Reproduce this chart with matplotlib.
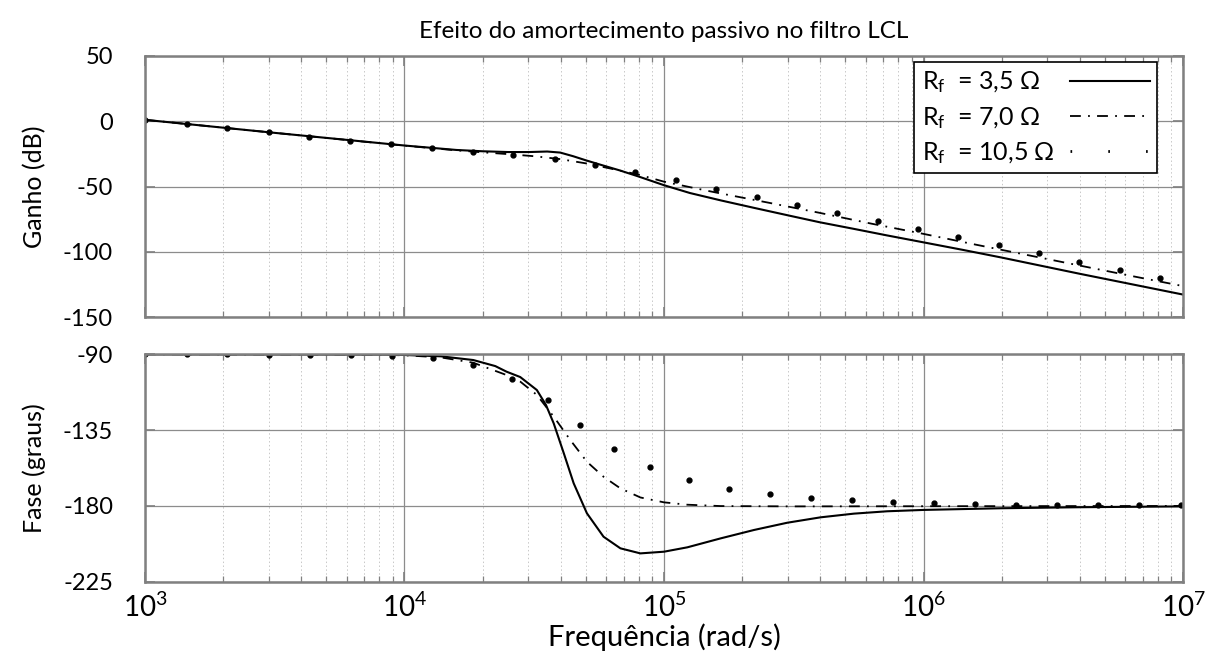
import matplotlib
matplotlib.use("Agg")
import matplotlib.pyplot as plt
from matplotlib.lines import Line2D
from matplotlib.ticker import LogLocator, NullFormatter
import numpy as np

# frequencies stored as log10(rad/s)
gain_35_logw = [3.0, 3.5, 4.0, 4.2, 4.3, 4.4, 4.48, 4.55, 4.6, 4.65, 4.7, 4.75, 4.83, 4.9,
                5.0, 5.1, 5.22, 5.35, 5.48, 5.6, 5.73, 5.86, 6.0, 6.15, 6.3, 6.45, 6.6, 6.8, 7.0]
gain_35 = [1.1, -8.9, -18.6, -22.0, -23.0, -23.6, -23.6, -23.2, -24.0, -26.8, -30.0, -33.0, -37.7, -42.2,
           -49.0, -55.0, -60.7, -66.5, -72.2, -77.4, -82.4, -87.5, -92.8, -98.5, -104.4, -110.6, -116.8, -124.8, -132.8]

gain_70_logw = [3.0, 3.5, 4.0, 4.2, 4.3, 4.4, 4.5, 4.6, 4.7, 4.8, 4.9, 5.0, 5.1, 5.2,
                5.4, 5.6, 5.8, 6.0, 6.2, 6.4, 6.6, 6.8, 7.0]
gain_70 = [1.1, -8.9, -18.7, -22.3, -23.8, -25.2, -26.8, -29.0, -32.3, -36.5, -40.8, -46.3, -50.5, -54.6,
           -62.3, -70.2, -78.5, -86.3, -94.5, -102.5, -110.5, -118.5, -126.3]

gain_105_logw = [3.000, 3.161, 3.317, 3.477, 3.634, 3.790, 3.950, 4.107, 4.264, 4.420, 4.579, 4.735, 4.890,
                 5.046, 5.202, 5.357, 5.512, 5.667, 5.823, 5.978, 6.134, 6.290, 6.445, 6.601, 6.756, 6.911]
gain_105 = [1.1, -2.3, -5.4, -8.6, -11.7, -14.8, -17.6, -20.4, -23.2, -25.7, -28.8, -33.4, -39.0,
            -45.4, -51.7, -57.8, -64.0, -70.4, -76.5, -82.6, -89.0, -95.1, -101.2, -107.6, -113.7, -120.1]

phase_35_logw = [3.0, 3.5, 3.9, 4.0, 4.14, 4.265, 4.35, 4.393, 4.446, 4.51, 4.545, 4.575, 4.614, 4.652,
                 4.703, 4.767, 4.832, 4.909, 5.0, 5.09, 5.218, 5.347, 5.475, 5.603, 5.732, 5.86, 6.0,
                 6.3, 6.6, 7.0]
phase_35 = [-90.0, -90.1, -90.2, -90.4, -91.2, -93.4, -97.0, -100.3, -103.5, -111.2, -120.0, -131.0, -148.8, -166.6,
            -184.4, -198.3, -205.2, -208.2, -207.2, -204.6, -199.3, -194.3, -190.0, -186.8, -184.6, -183.2, -182.4,
            -181.4, -180.8, -180.3]

phase_70_logw = [3.0, 3.9, 4.0, 4.138, 4.265, 4.393, 4.446, 4.51, 4.575, 4.639, 4.703, 4.767, 4.832,
                 4.909, 5.0, 5.09, 5.218, 5.5, 6.0, 7.0]
phase_70 = [-90.0, -90.3, -90.6, -91.8, -95.0, -102.3, -106.2, -114.1, -127.0, -140.9, -153.8, -162.7, -169.6,
            -175.0, -177.9, -179.3, -180.1, -180.3, -180.2, -180.05]

phase_105_logw = [3.000, 3.161, 3.317, 3.477, 3.636, 3.793, 3.952, 4.109, 4.265, 4.416, 4.552, 4.677, 4.806,
                  4.947, 5.098, 5.252, 5.409, 5.567, 5.725, 5.883, 6.041, 6.200, 6.358, 6.516, 6.674, 6.832, 6.991]
phase_105 = [-90.0, -90.1, -90.1, -90.2, -90.3, -90.5, -90.9, -92.4, -96.4, -104.5, -117.1, -132.0, -146.0,
             -157.1, -164.8, -169.8, -173.0, -175.1, -176.7, -177.7, -178.4, -179.0, -179.2, -179.4, -179.4,
             -179.4, -179.6]

labels = [r"R$_\mathrm{f}$  = 3,5 Ω", r"R$_\mathrm{f}$  = 7,0 Ω", r"R$_\mathrm{f}$  = 10,5 Ω"]

plt.rcParams['font.family'] = ['Lato', 'DejaVu Sans']
plt.rcParams['mathtext.fontset'] = 'custom'
plt.rcParams['mathtext.rm'] = 'Lato'
plt.rcParams['mathtext.it'] = 'Lato:italic'
plt.rcParams['axes.unicode_minus'] = False

fig = plt.figure(figsize=(12.16, 6.61), dpi=100)
ax1 = fig.add_axes([0.1192, 0.5204, 0.8537, 0.3949])
ax2 = fig.add_axes([0.1192, 0.1200, 0.8537, 0.3440])

dashdot = (0, (6, 4, 1, 4))
w = lambda lw: 10 ** np.array(lw)

ax1.plot(w(gain_35_logw), gain_35, color='black', lw=1.5)
ax1.plot(w(gain_70_logw), gain_70, color='black', lw=1.3, linestyle=dashdot)
ax1.plot(w(gain_105_logw), gain_105, color='black', linestyle='none', marker='o', ms=3.5)

ax2.plot(w(phase_35_logw), phase_35, color='black', lw=1.5)
ax2.plot(w(phase_70_logw), phase_70, color='black', lw=1.3, linestyle=dashdot)
ax2.plot(w(phase_105_logw), phase_105, color='black', linestyle='none', marker='o', ms=3.5)

for ax in (ax1, ax2):
    ax.set_xscale('log')
    ax.set_xlim(1e3, 1e7)
    ax.xaxis.set_major_locator(LogLocator(base=10, numticks=10))
    ax.xaxis.set_minor_locator(LogLocator(base=10, subs=np.arange(2, 10), numticks=50))
    ax.xaxis.set_minor_formatter(NullFormatter())
    ax.grid(True, which='major', color='#8c8c8c', lw=0.9)
    ax.grid(True, which='minor', axis='x', color='#c8c8c8', lw=0.7, linestyle=(0, (1.5, 2.5)))
    ax.tick_params(which='both', direction='in', top=True, right=True, colors='#808080',
                   labelcolor='black', labelsize=17)
    ax.tick_params(which='major', length=7, width=1.2)
    ax.tick_params(which='minor', length=4, width=0.9)
    ax.tick_params(axis='y', pad=23)
    for s in ax.spines.values():
        s.set_color('#808080')
        s.set_linewidth(1.8)
    ax.set_axisbelow(True)

ax1.set_ylim(-150, 50)
ax1.set_yticks([50, 0, -50, -100, -150])
ax1.tick_params(axis='x', labelbottom=False)
ax1.set_ylabel('Ganho (dB)', fontsize=18, labelpad=12)
ax1.set_title('Efeito do amortecimento passivo no filtro LCL', fontsize=17.5, pad=13)

ax2.set_ylim(-225, -90)
ax2.set_yticks([-90, -135, -180, -225])
ax2.tick_params(axis='x', labelsize=20, pad=8)
ax2.set_ylabel('Fase (graus)', fontsize=18, labelpad=12)
ax2.set_xlabel('Frequência (rad/s)', fontsize=21, labelpad=1)

handles = [Line2D([], [], color='black', lw=1.5),
           Line2D([], [], color='black', lw=1.3, linestyle=dashdot),
           Line2D([], [], color='black', lw=2.0, linestyle=(0, (0.6, 13)))]
leg = ax1.legend(handles, labels, loc='upper right', bbox_to_anchor=(0.975, 0.977), borderaxespad=0,
                 markerfirst=False, fontsize=18, handlelength=3.2, handletextpad=0.6,
                 labelspacing=0.38, fancybox=False, framealpha=1, borderpad=0.3)
leg.get_frame().set_edgecolor('black')
leg.get_frame().set_linewidth(1.2)

# left-align the label texts, keep the line samples in a right-hand column
fig.canvas.draw()
renderer = fig.canvas.get_renderer()
rows = leg._legend_handle_box.get_children()[0].get_children()
widths = [row.get_children()[0].get_window_extent(renderer).width for row in rows]
for row, wd in zip(rows, widths):
    row.sep += (max(widths) - wd) * 72.0 / fig.dpi

fig.savefig('out.png', dpi=100)
